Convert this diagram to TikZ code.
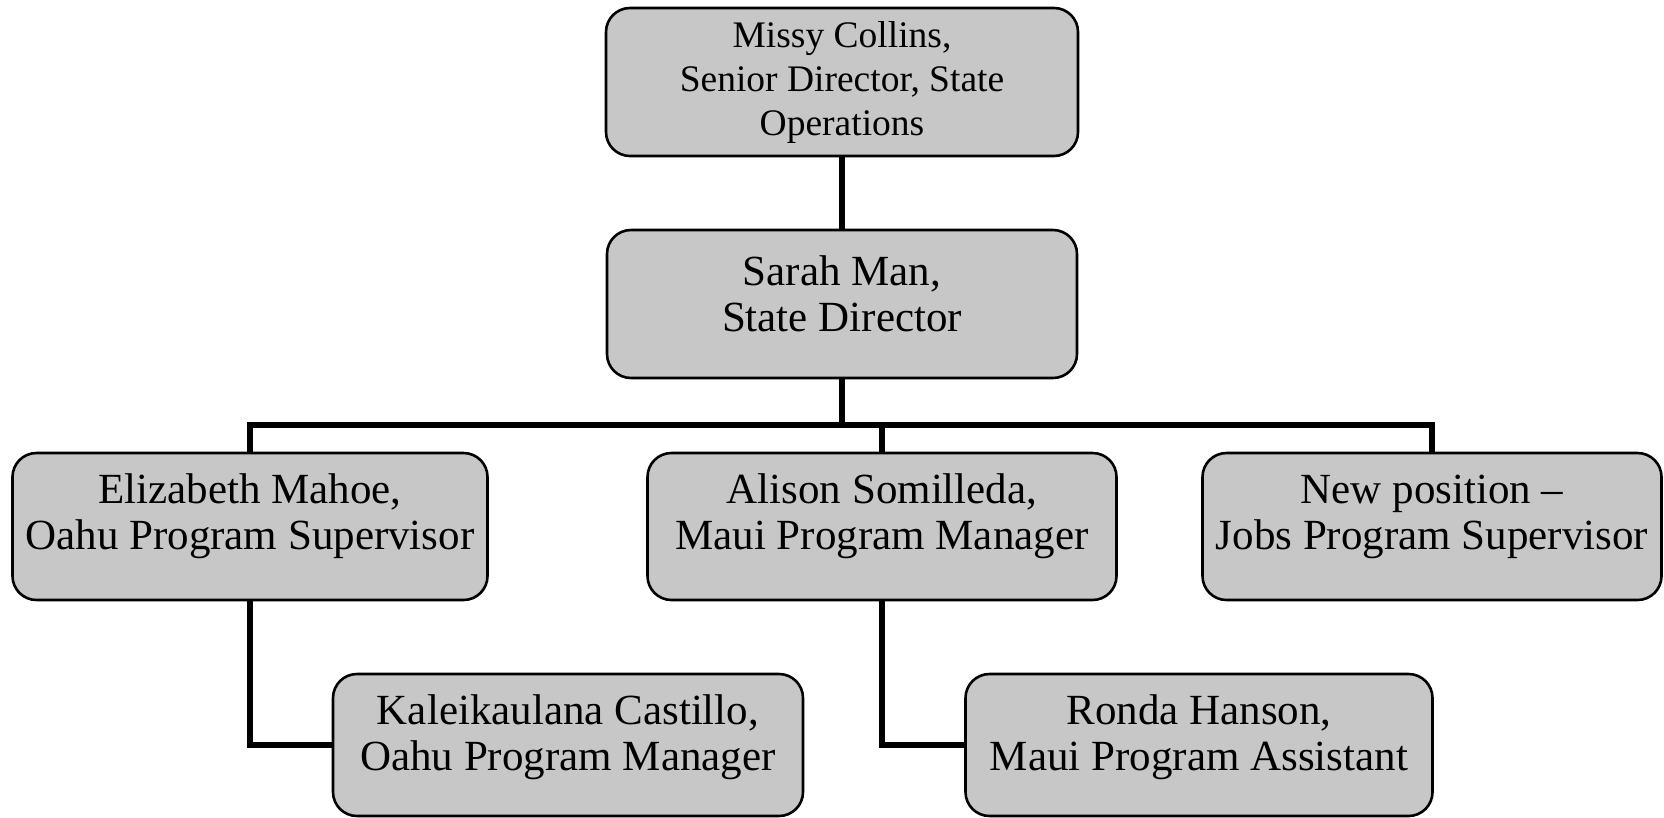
\documentclass[tikz,border=0pt]{standalone}
\usepackage{fontspec}
\setmainfont{Liberation Serif}
\tikzset{
  box/.style={draw=black, line width=2.6pt, fill=black!22, rounded corners=24pt,
    inner sep=0pt},
  txt/.style={inner sep=0pt, align=center, text=black, font=\fontsize{43}{46}\selectfont},
  txtsmall/.style={inner sep=0pt, align=center, text=black, font=\fontsize{37.5}{44}\selectfont},
  conn/.style={draw=black, line width=5.5pt},
}
\begin{document}
\begin{tikzpicture}[x=1pt,y=-1pt]
\useasboundingbox (0,0) rectangle (1664,817);
% boxes
\node[box,minimum width=472pt,minimum height=148pt] (missy) at (842,82) {};
\node[box,minimum width=470pt,minimum height=148pt] (sarah) at (842,304) {};
\coordinate (bus) at (0,425);
\node[box,minimum width=475pt,minimum height=147pt] (eliz) at (250,526.5) {};
\node[box,minimum width=469pt,minimum height=147pt] (alison) at (882,526.5) {};
\node[box,minimum width=459pt,minimum height=147pt] (newpos) at (1432,526.5) {};
\node[box,minimum width=470pt,minimum height=142pt] (kal) at (568,745) {};
\node[box,minimum width=467pt,minimum height=142pt] (ronda) at (1199,745) {};
% texts
\node[txtsmall] (missyT) at (missy.center) {Missy Collins,\\Senior Director, State\\Operations};
\node[txt,yshift=10pt] (sarahT) at (sarah.center) {Sarah Man,\\State Director};
\node[txt,yshift=10pt] (elizT) at (eliz.center) {Elizabeth Mahoe,\\Oahu Program Supervisor};
\node[txt,yshift=10pt] (alisonT) at (alison.center) {Alison Somilleda,\\Maui Program Manager};
\node[txt,yshift=10pt] (newposT) at (newpos.center) {New position --\\Jobs Program Supervisor};
\node[txt,yshift=8pt] (kalT) at (kal.center) {Kaleikaulana Castillo,\\Oahu Program Manager};
\node[txt,yshift=8pt] (rondaT) at (ronda.center) {Ronda Hanson,\\Maui Program Assistant};
% connectors
\draw[conn] (missy.south) -- (sarah.north);
\draw[conn] (sarah.south) -- (sarah.south |- bus);
\draw[conn] (eliz.north) -- (eliz.north |- bus) -- (newpos.north |- bus) -- (newpos.north);
\draw[conn] (alison.north |- bus) -- (alison.north);
\draw[conn] (eliz.south) |- (kal.west);
\draw[conn] (alison.south) |- (ronda.west);
\end{tikzpicture}
\end{document}
